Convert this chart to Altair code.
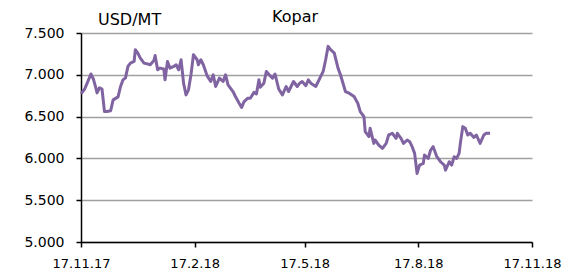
import altair as alt
import pandas as pd

dates = [
    "2017-11-17", "2017-11-20", "2017-11-22", "2017-11-25", "2017-11-27", "2017-11-29",
    "2017-11-30", "2017-12-02", "2017-12-04", "2017-12-06", "2017-12-08", "2017-12-11",
    "2017-12-13", "2017-12-17", "2017-12-19", "2017-12-21", "2017-12-23", "2017-12-25",
    "2017-12-27", "2017-12-30", "2017-12-31", "2018-01-02", "2018-01-04", "2018-01-07",
    "2018-01-10", "2018-01-12", "2018-01-15", "2018-01-16", "2018-01-18", "2018-01-20",
    "2018-01-23", "2018-01-24", "2018-01-26", "2018-01-28", "2018-01-31", "2018-02-02",
    "2018-02-04", "2018-02-06", "2018-02-08", "2018-02-10", "2018-02-12", "2018-02-14",
    "2018-02-16", "2018-02-19", "2018-02-20", "2018-02-22", "2018-02-24", "2018-02-27",
    "2018-03-02", "2018-03-04", "2018-03-06", "2018-03-09", "2018-03-12", "2018-03-14",
    "2018-03-16", "2018-03-20", "2018-03-22", "2018-03-25", "2018-03-27", "2018-03-29",
    "2018-04-01", "2018-04-03", "2018-04-06", "2018-04-08", "2018-04-10", "2018-04-11",
    "2018-04-14", "2018-04-16", "2018-04-19", "2018-04-21", "2018-04-23", "2018-04-26",
    "2018-04-29", "2018-05-02", "2018-05-04", "2018-05-06", "2018-05-08", "2018-05-11",
    "2018-05-13", "2018-05-15", "2018-05-18", "2018-05-20", "2018-05-22", "2018-05-26",
    "2018-05-28", "2018-06-01", "2018-06-03", "2018-06-05", "2018-06-07", "2018-06-10",
    "2018-06-13", "2018-06-15", "2018-06-19", "2018-06-22", "2018-06-26", "2018-06-29",
    "2018-07-01", "2018-07-04", "2018-07-05", "2018-07-08", "2018-07-09", "2018-07-12",
    "2018-07-13", "2018-07-16", "2018-07-19", "2018-07-22", "2018-07-24", "2018-07-27",
    "2018-07-30", "2018-07-31", "2018-08-03", "2018-08-05", "2018-08-08", "2018-08-10",
    "2018-08-12", "2018-08-14", "2018-08-16", "2018-08-18", "2018-08-21", "2018-08-22",
    "2018-08-25", "2018-08-27", "2018-08-29", "2018-09-01", "2018-09-04", "2018-09-07",
    "2018-09-08", "2018-09-11", "2018-09-13", "2018-09-15", "2018-09-17", "2018-09-19",
    "2018-09-20", "2018-09-22", "2018-09-24", "2018-09-26", "2018-09-28", "2018-10-01",
    "2018-10-03", "2018-10-06", "2018-10-09", "2018-10-11", "2018-10-14",
]

prices = [
    6772, 6830, 6900, 7010, 6950, 6844,
    6784, 6845, 6830, 6560, 6560, 6570,
    6700, 6736, 6860, 6940, 6964, 7100,
    7140, 7160, 7300, 7260, 7200, 7140,
    7130, 7120, 7170, 7230, 7060, 7080,
    7070, 6940, 7160, 7080, 7100, 7120,
    7060, 7180, 6900, 6760, 6820, 7000,
    7240, 7180, 7120, 7180, 7120, 6990,
    6920, 7000, 6860, 6960, 6920, 7000,
    6880, 6800, 6740, 6660, 6610, 6680,
    6720, 6720, 6790, 6770, 6940, 6850,
    6900, 7040, 6990, 6960, 7010, 6830,
    6760, 6860, 6800, 6860, 6920, 6860,
    6900, 6920, 6870, 6940, 6900, 6860,
    6920, 7040, 7180, 7340, 7300, 7260,
    7080, 7000, 6800, 6780, 6740, 6660,
    6560, 6500, 6320, 6260, 6360, 6180,
    6220, 6160, 6120, 6180, 6280, 6300,
    6240, 6300, 6240, 6180, 6220, 6200,
    6140, 6060, 5820, 5920, 5940, 6040,
    6000, 6100, 6140, 6020, 5960, 5920,
    5860, 5960, 5920, 6020, 6000, 6060,
    6180, 6380, 6360, 6280, 6300, 6250,
    6280, 6180, 6280, 6300, 6300,
]

y_ticks = [5000, 5500, 6000, 6500, 7000, 7500]
x_ticks = [(2017, 11, 17), (2018, 2, 17), (2018, 5, 17), (2018, 8, 17), (2018, 11, 17)]
title_text = "Kopar"
unit_text = "USD/MT"

FONT = "DejaVu Sans"

df = pd.DataFrame({"date": dates, "price": prices})

x_vals = [alt.DateTime(year=y, month=m, date=d, utc=True) for (y, m, d) in x_ticks]

line = alt.Chart(df).mark_line(color="#8064A2", strokeWidth=3, strokeJoin="round").encode(
    x=alt.X(
        "date:T",
        title=None,
        scale=alt.Scale(type="utc", domain=[x_vals[0], x_vals[-1]]),
        axis=alt.Axis(
            values=x_vals,
            labelExpr="utcFormat(datum.value, '%-d.%-m.%y')",
            grid=False,
            domainColor="black",
            domainWidth=1.5,
            tickColor="black",
            tickWidth=1.5,
            tickSize=5,
            labelPadding=10,
            labelFont=FONT,
            labelFontSize=13,
            labelColor="black",
            labelAngle=0,
            labelFlush=False,
            labelOverlap=False,
        ),
    ),
    y=alt.Y(
        "price:Q",
        title=None,
        scale=alt.Scale(domain=[5000, 7500], nice=False, zero=False),
        axis=alt.Axis(
            values=y_ticks,
            labelExpr="replace(format(datum.value, ','), ',', '.')",
            grid=True,
            gridColor="#a0a0a0",
            gridWidth=1.5,
            domainColor="black",
            domainWidth=1.5,
            tickColor="black",
            tickWidth=1.5,
            tickSize=5,
            labelPadding=12,
            labelFont=FONT,
            labelFontSize=14,
            labelColor="black",
            labelFlush=False,
            labelOverlap=False,
        ),
    ),
)

title = alt.Chart(pd.DataFrame({"t": [title_text]})).mark_text(
    font=FONT, fontSize=16, color="black", align="center", baseline="alphabetic"
).encode(x=alt.value(214), y=alt.value(-11), text="t:N")

unit = alt.Chart(pd.DataFrame({"t": [unit_text]})).mark_text(
    font=FONT, fontSize=16, color="black", align="left", baseline="alphabetic"
).encode(x=alt.value(17), y=alt.value(-8), text="t:N")

chart = alt.layer(line, title, unit).properties(
    width=451,
    height=209,
    autosize=alt.AutoSizeParams(type="none"),
    padding={"left": 73, "top": 25, "right": 30, "bottom": 29},
).configure_view(stroke=None)

chart.save("out.html", embed_options={"renderer": "svg", "actions": False})
